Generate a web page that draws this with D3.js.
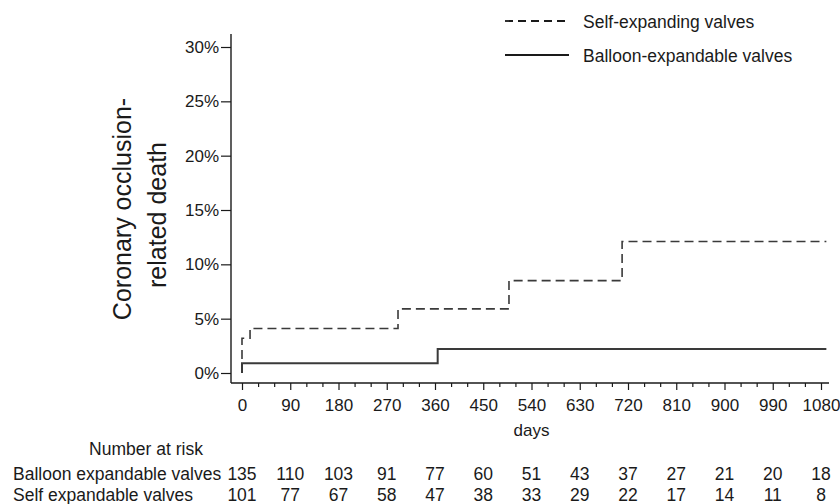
<!DOCTYPE html>
<html lang="en">
<head>
<meta charset="utf-8">
<title>Coronary occlusion-related death</title>
<script src="https://cdn.jsdelivr.net/npm/d3@7"></script>
<style>
  * { margin: 0; padding: 0; }
  body { background: #fff; }
  svg { display: block; font-family: "Liberation Sans", Arial, Helvetica, sans-serif; }
  .axis text { font-size: 17px; fill: #1a1a1a; }
  .axis line { stroke: #1a1a1a; stroke-width: 1.2; }
  .axis path { display: none; }
</style>
</head>
<body>
<div id="chart"></div>
<script>
// x ticks (days) and number-at-risk table
var dayTicks = [0, 90, 180, 270, 360, 450, 540, 630, 720, 810, 900, 990, 1080];
var riskBalloon = [135, 110, 103, 91, 77, 60, 51, 43, 37, 27, 21, 20, 18];
var riskSelf = [101, 77, 67, 58, 47, 38, 33, 29, 22, 17, 14, 11, 8];

// cumulative incidence step curves
var selfDays = [0, 0, 15, 291, 498, 709, 1090];
var selfRate = [0, 0.032, 0.041, 0.059, 0.085, 0.121, 0.121];
var balloonDays = [0, 0, 365, 1090];
var balloonRate = [0, 0.009, 0.022, 0.022];

var yTicks = [0, 0.05, 0.10, 0.15, 0.20, 0.25, 0.30];

var w = 840, h = 504;

var svg = d3.select("#chart").append("svg")
    .attr("width", w)
    .attr("height", h);

var x = d3.scaleLinear().domain([0, 1080]).range([242, 821]);
var y = d3.scaleLinear().domain([0, 0.30]).range([373, 47]);

var axisX = 231, axisY = 383;

// frame lines
svg.append("line")
    .attr("x1", axisX).attr("x2", axisX)
    .attr("y1", 34).attr("y2", axisY)
    .attr("stroke", "#1a1a1a").attr("stroke-width", 1.4);
svg.append("line")
    .attr("x1", axisX).attr("x2", 829)
    .attr("y1", axisY).attr("y2", axisY)
    .attr("stroke", "#1a1a1a").attr("stroke-width", 1.4);

// y axis
svg.append("g")
    .attr("class", "axis")
    .attr("transform", "translate(" + axisX + ",0)")
    .call(d3.axisLeft(y)
        .tickValues(yTicks)
        .tickSize(10)
        .tickPadding(2)
        .tickFormat(function(d) { return Math.round(d * 100) + "%"; }));

// x axis, minor ticks every 30 days
svg.append("g")
    .attr("class", "axis")
    .attr("transform", "translate(0," + axisY + ")")
    .call(d3.axisBottom(x)
        .tickValues(d3.range(0, 1081, 30).filter(function(d) { return d % 90 != 0; }))
        .tickSize(4)
        .tickFormat(""));

svg.append("g")
    .attr("class", "axis")
    .attr("transform", "translate(0," + axisY + ")")
    .call(d3.axisBottom(x)
        .tickValues(dayTicks)
        .tickSize(7)
        .tickPadding(9)
        .tickFormat(d3.format("d")));

svg.append("text")
    .attr("x", x(540)).attr("y", 436)
    .attr("text-anchor", "middle")
    .style("font-size", "17px").style("fill", "#1a1a1a")
    .text("days");

// y title, two lines
svg.append("text")
    .attr("transform", "translate(131,209) rotate(-90)")
    .attr("text-anchor", "middle")
    .style("font-size", "25px").style("fill", "#1a1a1a")
    .text("Coronary occlusion-");
svg.append("text")
    .attr("transform", "translate(166,215) rotate(-90)")
    .attr("text-anchor", "middle")
    .style("font-size", "25px").style("fill", "#1a1a1a")
    .text("related death");

// curves
var line = d3.line()
    .x(function(d) { return x(d[0]); })
    .y(function(d) { return y(d[1]); })
    .curve(d3.curveStepAfter);

svg.append("path")
    .datum(d3.zip(balloonDays, balloonRate))
    .attr("d", line)
    .attr("fill", "none")
    .attr("stroke", "#3a3a3a")
    .attr("stroke-width", 2);

svg.append("path")
    .datum(d3.zip(selfDays, selfRate))
    .attr("d", line)
    .attr("fill", "none")
    .attr("stroke", "#3a3a3a")
    .attr("stroke-width", 1.6)
    .attr("stroke-dasharray", "9,5");

// legend
var legend = [
    {label: "Self-expanding valves", dash: "8,5", y: 21},
    {label: "Balloon-expandable valves", dash: null, y: 55}
];
legend.forEach(function(d) {
    svg.append("line")
        .attr("x1", 505).attr("x2", 569)
        .attr("y1", d.y).attr("y2", d.y)
        .attr("stroke", "#1a1a1a")
        .attr("stroke-width", d.dash ? 1.8 : 2)
        .attr("stroke-dasharray", d.dash);
    svg.append("text")
        .attr("x", 583).attr("y", d.y + 7)
        .style("font-size", "17.5px").style("fill", "#1a1a1a")
        .text(d.label);
});

// number at risk
svg.append("text")
    .attr("x", 146).attr("y", 455)
    .attr("text-anchor", "middle")
    .style("font-size", "17.5px").style("fill", "#1a1a1a")
    .text("Number at risk");

var rows = [
    {label: "Balloon expandable valves", values: riskBalloon, y: 480},
    {label: "Self expandable valves", values: riskSelf, y: 501}
];
rows.forEach(function(r) {
    svg.append("text")
        .attr("x", 13).attr("y", r.y)
        .style("font-size", "17.5px").style("fill", "#1a1a1a")
        .text(r.label);
    svg.append("g").selectAll("text")
        .data(r.values)
        .enter().append("text")
        .attr("x", function(d, i) { return x(dayTicks[i]); })
        .attr("y", r.y)
        .attr("text-anchor", "middle")
        .style("font-size", "17.5px").style("fill", "#1a1a1a")
        .text(function(d) { return d; });
});
</script>
</body>
</html>
